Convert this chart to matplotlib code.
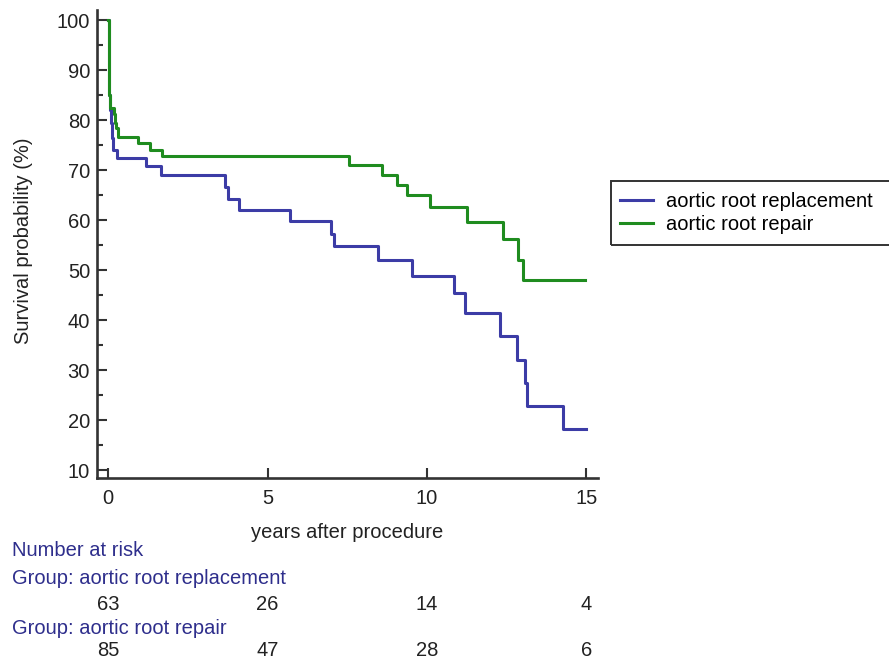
import matplotlib.pyplot as plt
import matplotlib.patches as mpatches
import matplotlib.transforms as mtransforms

plt.rcParams['font.family'] = ['Liberation Sans', 'DejaVu Sans']

# Kaplan-Meier steps (time in years, survival in %)
t_replace = [0, 0.02, 0.04, 0.06, 0.09, 0.12, 0.15, 0.27, 1.19, 1.65, 3.67, 3.76, 4.12,
             5.71, 6.99, 7.09, 8.48, 9.53, 10.86, 11.21, 12.30, 12.84, 13.08, 13.14, 14.26, 14.99]
s_replace = [100, 90, 85, 82, 79.5, 76.5, 74.1, 72.5, 70.8, 69.0, 66.6, 64.3, 62.1,
             59.8, 57.3, 54.8, 52.0, 48.9, 45.5, 41.4, 36.8, 32.1, 27.5, 22.9, 18.3, 18.3]

t_repair = [0, 0.02, 0.04, 0.06, 0.17, 0.22, 0.25, 0.32, 0.93, 1.30, 1.70, 7.56, 8.59,
            9.06, 9.37, 10.11, 11.25, 12.40, 12.87, 13.03, 14.97]
s_repair = [100, 90, 85, 82.5, 81.3, 79.5, 78.4, 76.7, 75.5, 74.0, 72.9, 71.0, 69.1,
            67.0, 65.0, 62.7, 59.6, 56.3, 52.1, 48.1, 48.1]

risk_times = [0, 5, 10, 15]
risk_replace = [63, 26, 14, 4]
risk_repair = [85, 47, 28, 6]

blue = '#3c3ca6'
green = '#1f8c1f'
label_col = '#2e2e8c'
axis_col = '#333333'
fs = 14.5

W, H = 889, 665
fig = plt.figure(figsize=(W / 100, H / 100), dpi=100)
ax = fig.add_axes([97 / W, 1 - 478 / H, (598 - 97) / W, (478 - 10) / H])

ax.step(t_replace, s_replace, where='post', color=blue, linewidth=2.2, label='aortic root replacement')
ax.step(t_repair, s_repair, where='post', color=green, linewidth=2.2, label='aortic root repair')

ax.set_xlim(-0.35, 15.37)
ax.set_ylim(8.5, 102)
ax.set_xticks([0, 5, 10, 15])
ax.set_yticks(range(10, 101, 10))
ax.set_yticks(range(15, 100, 10), minor=True)

for side in ['top', 'right']:
    ax.spines[side].set_visible(False)
for side in ['left', 'bottom']:
    ax.spines[side].set_linewidth(1.9)
    ax.spines[side].set_color(axis_col)

ax.tick_params(axis='both', which='major', direction='in', length=7, width=1.5,
               color=axis_col, labelsize=14.5, labelcolor='#222222')
ax.tick_params(axis='y', which='minor', direction='in', length=4, width=1.5, color=axis_col)
ax.tick_params(axis='x', which='major', pad=8)
ax.tick_params(axis='y', which='major', pad=5)

ax.set_xlabel('years after procedure', fontsize=fs, color='#222222', labelpad=11)
ax.set_ylabel('Survival probability (%)', fontsize=fs, color='#222222')
ax.yaxis.set_label_coords(-0.128, 0.508)

# legend: frame runs past the right edge of the figure, so draw it by hand
fig.patches.append(mpatches.Rectangle((611 / W, 1 - 245 / H), 290 / W, 64 / H,
                                      transform=fig.transFigure, fill=False,
                                      edgecolor=axis_col, linewidth=1.4))
ax.legend(loc='upper left', bbox_to_anchor=(620 / W, 1 - 192 / H),
          bbox_transform=fig.transFigure, fontsize=fs, frameon=False,
          handlelength=1.65, handletextpad=0.65, borderpad=0, borderaxespad=0,
          labelspacing=0.18)

# number-at-risk table below the axes
fig.text(12 / W, 1 - 551 / H, 'Number at risk', fontsize=fs, color=label_col, va='center')
fig.text(12 / W, 1 - 578 / H, 'Group: aortic root replacement', fontsize=fs, color=label_col, va='center')
fig.text(12 / W, 1 - 628 / H, 'Group: aortic root repair', fontsize=fs, color=label_col, va='center')

trans = mtransforms.blended_transform_factory(ax.transData, fig.transFigure)
for t, n in zip(risk_times, risk_replace):
    ax.text(t, 1 - 604 / H, str(n), transform=trans, ha='center', va='center',
            fontsize=fs, color='#222222', clip_on=False)
for t, n in zip(risk_times, risk_repair):
    ax.text(t, 1 - 651 / H, str(n), transform=trans, ha='center', va='center',
            fontsize=fs, color='#222222', clip_on=False)

fig.savefig('out.png', dpi=100)
